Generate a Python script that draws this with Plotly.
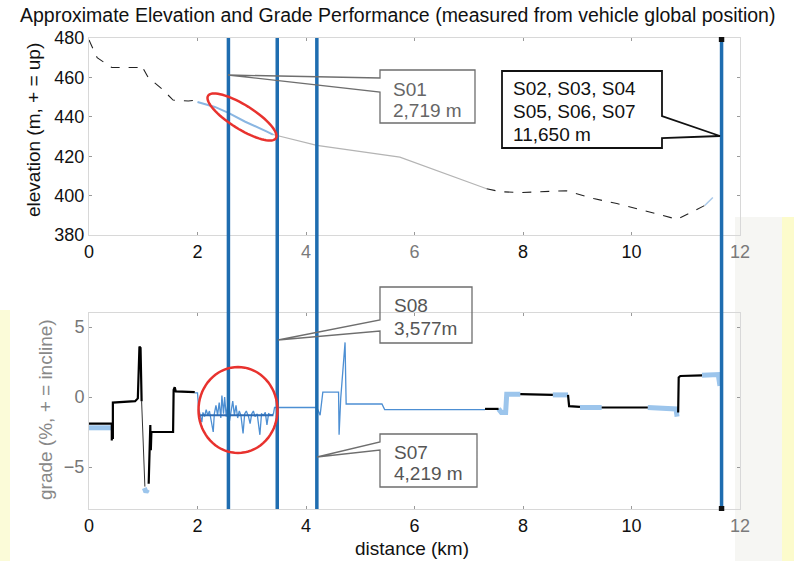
import math
import plotly.graph_objects as go

# ---------------- data ----------------
# elevation profile (km, m)
elev_black1_km = [0.0, 0.15, 0.42, 0.94, 0.97, 1.09, 1.35, 1.55, 1.83, 2.0]
elev_black1_m = [479, 470, 465, 465, 466, 460, 454, 448.5, 448, 448.5]
elev_blue1_km = [2.0, 2.32, 2.57, 2.88, 3.28, 3.39]
elev_blue1_m = [447.5, 445, 442, 437.5, 432.5, 431]
elev_gray_km = [3.39, 4.2, 5.73, 7.33]
elev_gray_m = [431, 425.5, 419.5, 403.5]
elev_black2_km = [7.33, 7.58, 7.94, 8.5, 8.8, 9.3, 9.73, 10.84, 11.35]
elev_black2_m = [403.5, 402, 401.5, 402, 402.5, 398.5, 396, 388, 395]
elev_blue2_km = [11.35, 11.5]
elev_blue2_m = [395, 399]

# grade (km, %)
grade_black_km = [0.0, 0.42, 0.42, None,
                  0.44, 0.44, 0.85, 0.9, 0.93, 0.95, 0.97, None,
                  1.1, 1.12, 1.13, 1.14, 1.15, 1.55, 1.56, 1.58, 1.6, 1.95, None,
                  7.3, 7.55, None,
                  7.95, 8.2, 8.55, None,
                  8.83, 8.85, 9.05, None,
                  9.45, 10.3, None,
                  10.86, 10.87, 10.9, 11.3]
grade_black_pct = [-1.9, -1.9, -3.1, None,
                   -3.0, -0.4, -0.3, -0.1, 3.6, 3.5, -0.3, None,
                   -6.2, -2.5, -2.0, -3.8, -2.5, -2.5, 0.5, 0.7, 0.4, 0.35, None,
                   -0.85, -0.85, None,
                   0.2, 0.2, 0.15, None,
                   0.15, -0.65, -0.7, None,
                   -0.75, -0.75, None,
                   -1.1, 1.4, 1.5, 1.55]
grade_drop_km = [0.97, 1.03]
grade_drop_pct = [-0.3, -6.4]
grade_thin_km = [1.95, 2.0, 2.02, 2.05, 2.08, 2.1, 2.13, 2.16, 2.19, 2.22, 2.25, 2.29,
                 2.31, 2.34, 2.37, 2.4, 2.43, 2.45, 2.48, 2.5, 2.53, 2.56, 2.59, 2.62,
                 2.65, 2.68, 2.71, 2.74, 2.77, 2.8, 2.84, 2.87, 2.9, 2.94, 2.97, 3.0,
                 3.03, 3.06, 3.1, 3.15, 3.18, 3.22, 3.25, 3.28, 3.31, 3.36, 3.4,
                 3.42, 4.2, 4.26, 4.31, 4.6, 4.61, 4.64, 4.72, 4.74, 5.4, 5.45, 7.3]
grade_thin_pct = [0.3, 0.3, -0.8, -1.3, -1.8, -1.1, -1.4, -0.9, -1.3, -1.0, -1.6, -2.5,
                  -1.2, -0.6, -1.3, -0.4, -1.5, 0.1, -1.2, 0.0, -1.4, -0.5, -1.7, -0.8,
                  -0.3, -1.3, -0.6, -1.5, -1.0, -1.3, -2.6, -1.2, -1.0, -1.4, -1.9, -1.2,
                  -1.0, -1.4, -1.2, -2.7, -1.2, -1.3, -1.1, -2.0, -1.2, -1.3, -1.2,
                  -0.75, -0.75, -1.3, 0.35, 0.35, -2.7, -0.1, 3.9, -0.5, -0.5, -0.9, -0.9]
grade_mean_km = [2.05, 3.4]
grade_mean_pct = [-1.3, -1.3]
grade_band_km = [0.0, 0.42, None, 1.02, 1.05, 1.08, None,
                 7.55, 7.6, 7.68, 7.7, 7.95, None,
                 8.55, 8.83, None, 9.05, 9.45, None,
                 10.3, 10.82, 10.84, None, 11.3, 11.6, 11.63]
grade_band_pct = [-2.2, -2.2, None, -6.5, -6.8, -6.6, None,
                  -0.85, -1.1, -1.1, 0.2, 0.2, None,
                  0.15, 0.15, None, -0.75, -0.75, None,
                  -0.75, -0.85, -1.4, None, 1.55, 1.6, 0.8]

# sensor positions (km)
sensor_km = [2.57, 3.47, 4.20, 11.66]

x_ticks = [0, 2, 4, 6, 8, 10, 12]
x_labels_top = ["0", "2", "4", "6", "8", "10", "12"]
x_labels_bot = ["0", "2", "4", "6", "8", "10", "12"]
elev_ticks = [380, 400, 420, 440, 460, 480]
grade_ticks = [-5, 0, 5]

title_text = "Approximate Elevation and Grade Performance (measured from vehicle global position)"
callouts = [
    ["S01", "2,719 m"],
    ["S08", "3,577m"],
    ["S07", "4,219 m"],
    ["S02, S03, S04", "S05, S06, S07", "11,650 m"],
]

# ---------------- geometry helpers (pixel -> paper) ----------------
W, H = 794, 561
L, R, T, B = 89, 740, 38, 509


def px(x):
    return (x - L) / (R - L)


def py(y):
    return (B - y) / (B - T)


def path(points, close=True):
    s = "M " + " L ".join(f"{px(a):.5f},{py(b):.5f}" for a, b in points)
    return s + (" Z" if close else "")


def ellipse(cx, cy, a, b, ang_deg, n=72):
    ang = math.radians(ang_deg)
    pts = []
    for i in range(n):
        t = 2 * math.pi * i / n
        ex, ey = a * math.cos(t), b * math.sin(t)
        pts.append((cx + ex * math.cos(ang) - ey * math.sin(ang),
                    cy + ex * math.sin(ang) + ey * math.cos(ang)))
    return path(pts)


FONT = "Liberation Sans, Arial, Helvetica, sans-serif"
GRAY = "#7a7a7a"


def colored(labels, grays):
    return [f"<span style='color:{GRAY}'>{t}</span>" if g else t for t, g in zip(labels, grays)]


fig = go.Figure()

# elevation
fig.add_trace(go.Scatter(x=elev_black1_km, y=elev_black1_m, mode="lines",
                         line=dict(color="#222222", width=1.1, dash="dash"),
                         xaxis="x", yaxis="y", showlegend=False))
fig.add_trace(go.Scatter(x=elev_blue1_km, y=elev_blue1_m, mode="lines",
                         line=dict(color="#8ab6e2", width=2),
                         xaxis="x", yaxis="y", showlegend=False))
fig.add_trace(go.Scatter(x=elev_gray_km, y=elev_gray_m, mode="lines",
                         line=dict(color="#b4b4b4", width=1.2),
                         xaxis="x", yaxis="y", showlegend=False))
fig.add_trace(go.Scatter(x=elev_black2_km, y=elev_black2_m, mode="lines",
                         line=dict(color="#222222", width=1.1, dash="dash"),
                         xaxis="x", yaxis="y", showlegend=False))
fig.add_trace(go.Scatter(x=elev_blue2_km, y=elev_blue2_m, mode="lines",
                         line=dict(color="#a9c9ea", width=1.5),
                         xaxis="x", yaxis="y", showlegend=False))

# grade
fig.add_trace(go.Scatter(x=grade_band_km, y=grade_band_pct, mode="lines",
                         line=dict(color="#9cc5ec", width=5),
                         xaxis="x2", yaxis="y2", showlegend=False))
fig.add_trace(go.Scatter(x=grade_thin_km, y=grade_thin_pct, mode="lines",
                         line=dict(color="#4d8fd3", width=1.3),
                         xaxis="x2", yaxis="y2", showlegend=False))
fig.add_trace(go.Scatter(x=grade_mean_km, y=grade_mean_pct, mode="lines",
                         line=dict(color="#2f6cb4", width=2),
                         xaxis="x2", yaxis="y2", showlegend=False))
fig.add_trace(go.Scatter(x=grade_drop_km, y=grade_drop_pct, mode="lines",
                         line=dict(color="#333333", width=1),
                         xaxis="x2", yaxis="y2", showlegend=False))
fig.add_trace(go.Scatter(x=grade_black_km, y=grade_black_pct, mode="lines",
                         line=dict(color="#000000", width=2.2),
                         xaxis="x2", yaxis="y2", showlegend=False))

shapes = []
# scan tint strips
shapes.append(dict(type="rect", xref="paper", yref="paper", layer="below",
                   x0=px(735), x1=px(782), y0=py(561), y1=py(217),
                   fillcolor="#f6f6f3", line=dict(width=0)))
shapes.append(dict(type="rect", xref="paper", yref="paper", layer="below",
                   x0=px(782), x1=px(794), y0=py(561), y1=py(217),
                   fillcolor="#fcfbcc", line=dict(width=0)))
shapes.append(dict(type="rect", xref="paper", yref="paper", layer="below",
                   x0=px(0), x1=px(10), y0=py(561), y1=py(310),
                   fillcolor="#fbfbd8", line=dict(width=0)))

# sensor lines
for s in sensor_km:
    shapes.append(dict(type="line", xref="x", yref="paper", x0=s, x1=s, y0=0, y1=1,
                       line=dict(color="#1f6db0", width=3.5)))
shapes.append(dict(type="rect", xref="x", yref="paper", x0=sensor_km[-1] - 0.05,
                   x1=sensor_km[-1] + 0.05, y0=py(42), y1=py(37),
                   fillcolor="#111111", line=dict(width=0)))
shapes.append(dict(type="rect", xref="x", yref="paper", x0=sensor_km[-1] - 0.05,
                   x1=sensor_km[-1] + 0.05, y0=py(511), y1=py(506),
                   fillcolor="#111111", line=dict(width=0)))

# red highlight ellipses
shapes.append(dict(type="path", xref="paper", yref="paper",
                   path=ellipse(242, 117, 40, 12, 32),
                   line=dict(color="#e8322e", width=2.5)))
shapes.append(dict(type="path", xref="paper", yref="paper",
                   path=ellipse(238, 410, 39.5, 43, 0),
                   line=dict(color="#e8322e", width=2.5)))

# callout boxes
box_gray = dict(color="#6e6e6e", width=1.3)
shapes.append(dict(type="path", xref="paper", yref="paper", line=box_gray,
                   path=path([(380, 78), (380, 70), (475, 70), (475, 123), (380, 123),
                              (380, 92), (228, 75), (380, 78)])))
shapes.append(dict(type="path", xref="paper", yref="paper", line=box_gray,
                   path=path([(380, 320), (380, 287), (472, 287), (472, 343), (380, 343),
                              (380, 331), (278, 340), (380, 320)])))
shapes.append(dict(type="path", xref="paper", yref="paper", line=box_gray,
                   path=path([(380, 442), (380, 434), (477, 434), (477, 487), (380, 487),
                              (380, 450), (317, 457), (380, 442)])))
shapes.append(dict(type="path", xref="paper", yref="paper",
                   line=dict(color="#111111", width=1.8),
                   path=path([(662, 116), (662, 71), (502, 71), (502, 148), (662, 148),
                              (662, 138), (720, 136), (662, 116)])))

annotations = []


def txt(s, x, y, color, size=19):
    annotations.append(dict(text=s, x=px(x), y=py(y), xref="paper", yref="paper",
                            xanchor="left", yanchor="middle", showarrow=False,
                            font=dict(family=FONT, size=size, color=color)))


txt(callouts[0][0], 391, 90, "#666666")
txt(callouts[0][1], 391, 111, "#666666")
txt(callouts[1][0], 392, 305, "#555555")
txt(callouts[1][1], 392, 328, "#555555")
txt(callouts[2][0], 392, 452, "#555555")
txt(callouts[2][1], 392, 473, "#555555")
txt(callouts[3][0], 511, 89, "#111111")
txt(callouts[3][1], 511, 112, "#111111")
txt(callouts[3][2], 511, 135, "#111111")

# axis titles
annotations.append(dict(text="elevation (m, + = up)", x=px(33), y=py(130), xref="paper",
                        yref="paper", textangle=-90, showarrow=False,
                        xanchor="center", yanchor="middle",
                        font=dict(family=FONT, size=19, color="#111111")))
annotations.append(dict(text="grade (%, + = incline)", x=px(45), y=py(410), xref="paper",
                        yref="paper", textangle=-90, showarrow=False,
                        xanchor="center", yanchor="middle",
                        font=dict(family=FONT, size=19, color="#888888")))
annotations.append(dict(text="distance (km)", x=px(412), y=py(548), xref="paper",
                        yref="paper", showarrow=False, xanchor="center", yanchor="middle",
                        font=dict(family=FONT, size=19, color="#111111")))

axis_common = dict(showgrid=False, zeroline=False, showline=True, linecolor="#d8d8d8",
                   linewidth=1, mirror="ticks", ticks="inside", ticklen=3,
                   tickcolor="#9a9a9a", tickfont=dict(family=FONT, size=18, color="#111111"))

fig.update_layout(
    width=W, height=H,
    margin=dict(l=L, r=W - R, t=T, b=H - B, pad=0),
    paper_bgcolor="white", plot_bgcolor="rgba(0,0,0,0)",
    showlegend=False,
    title=dict(text=title_text, x=20 / W, xref="container", xanchor="left",
               y=1 - 15 / H, yref="container", yanchor="middle",
               font=dict(family=FONT, size=19.5, color="#111111")),
    xaxis=dict(axis_common, domain=[0, 1], range=[0, 12], anchor="y",
               tickvals=x_ticks,
               ticktext=colored(x_labels_top, [0, 0, 1, 1, 0, 0, 1])),
    yaxis=dict(axis_common, domain=[py(235), 1], range=[380, 480], anchor="x",
               tickvals=elev_ticks),
    xaxis2=dict(axis_common, domain=[0, 1], range=[0, 12], anchor="y2",
                tickvals=x_ticks,
                ticktext=colored(x_labels_bot, [0, 0, 0, 0, 0, 0, 1])),
    yaxis2=dict(axis_common, domain=[0, py(313)], range=[-8, 6], anchor="x2",
                tickvals=grade_ticks,
                tickfont=dict(family=FONT, size=18, color="#777777")),
    shapes=shapes,
    annotations=annotations,
)

fig.write_html("out.html", config={"displayModeBar": False},
               post_script="document.body.style.margin='0';document.body.style.overflow='hidden';")
